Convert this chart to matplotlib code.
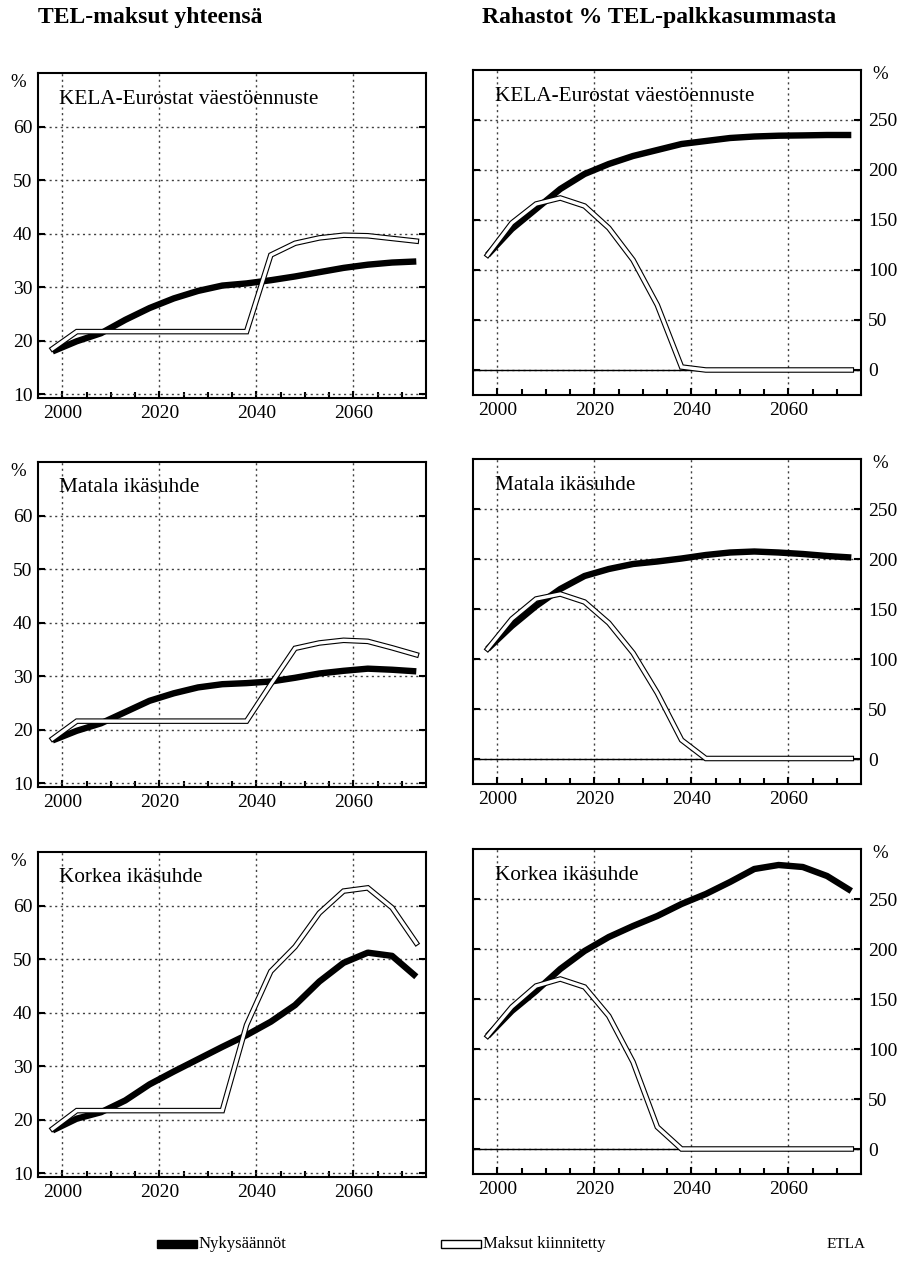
import matplotlib.pyplot as plt
from matplotlib.patches import Rectangle

plt.rcParams['font.family'] = ['Liberation Serif', 'DejaVu Serif']

# Vuodet (5 vuoden välein)
vuodet = [1998, 2003, 2008, 2013, 2018, 2023, 2028, 2033,
          2038, 2043, 2048, 2053, 2058, 2063, 2068, 2073]

# TEL-maksut yhteensä, %
maksu_kela_nyky = [18.0, 19.9, 21.4, 23.9, 26.1, 27.9, 29.3, 30.3,
                   30.7, 31.3, 32.0, 32.8, 33.6, 34.2, 34.6, 34.8]
maksu_kela_kiinn = [18.5, 21.7, 21.7, 21.7, 21.7, 21.7, 21.7, 21.7,
                    21.7, 36.0, 38.2, 39.2, 39.7, 39.6, 39.1, 38.6]
maksu_mat_nyky = [18.0, 19.8, 21.2, 23.3, 25.4, 26.8, 27.9, 28.5,
                  28.7, 29.0, 29.7, 30.5, 31.0, 31.4, 31.2, 30.9]
maksu_mat_kiinn = [18.3, 21.6, 21.6, 21.6, 21.6, 21.6, 21.6, 21.6,
                   21.6, 28.5, 35.2, 36.2, 36.7, 36.5, 35.3, 34.0]
maksu_kork_nyky = [18.0, 20.2, 21.4, 23.6, 26.6, 29.0, 31.3, 33.6,
                   35.8, 38.3, 41.4, 45.8, 49.3, 51.2, 50.6, 46.7]
maksu_kork_kiinn = [18.3, 21.7, 21.7, 21.7, 21.7, 21.7, 21.7, 21.7,
                    37.7, 47.7, 52.3, 58.6, 62.7, 63.3, 59.6, 53.0]

# Rahastot % TEL-palkkasummasta
rahasto_kela_nyky = [115, 141, 161, 181, 196, 206, 214, 220,
                     226, 229, 232, 233.5, 234.3, 234.6, 235, 235]
rahasto_kela_kiinn = [115, 147, 166, 172, 164, 142, 110, 65,
                      3, 0, 0, 0, 0, 0, 0, 0]
rahasto_mat_nyky = [110, 133, 153, 170, 183, 190, 195, 197.5,
                    200.5, 204, 206.5, 207.5, 206.5, 205, 203, 201.5]
rahasto_mat_kiinn = [110, 140, 160, 165, 157, 136, 106, 66,
                     19, 0.5, 0.5, 0.5, 0.5, 0.5, 0.5, 0.5]
rahasto_kork_nyky = [113, 138, 158, 180, 198, 212, 223, 233,
                     245, 255, 267, 280, 284, 282, 273, 258]
rahasto_kork_kiinn = [113, 142, 163, 170, 162, 133, 87, 22,
                      0, 0, 0, 0, 0, 0, 0, 0]

paneelit = ["KELA-Eurostat väestöennuste", "Matala ikäsuhde", "Korkea ikäsuhde"]
vasen_data = [(maksu_kela_nyky, maksu_kela_kiinn),
              (maksu_mat_nyky, maksu_mat_kiinn),
              (maksu_kork_nyky, maksu_kork_kiinn)]
oikea_data = [(rahasto_kela_nyky, rahasto_kela_kiinn),
              (rahasto_mat_nyky, rahasto_mat_kiinn),
              (rahasto_kork_nyky, rahasto_kork_kiinn)]

W, H = 904, 1264
fig = plt.figure(figsize=(W / 100, H / 100), dpi=100)


def px_axes(left, top, right, bottom):
    return fig.add_axes([left / W, 1 - bottom / H, (right - left) / W, (bottom - top) / H])


def piirra(ax, nyky, kiinn):
    ax.plot(vuodet, nyky, color="black", lw=4.6, solid_capstyle="butt", zorder=3)
    ax.plot(vuodet, kiinn, color="black", lw=4.0, solid_joinstyle="miter", zorder=4)
    ax.plot(vuodet, kiinn, color="white", lw=2.4, solid_joinstyle="miter", zorder=5)


def muotoile(ax):
    ax.set_xlim(1995, 2075)
    ax.set_xticks([2000, 2020, 2040, 2060])
    ax.set_xticks([2005, 2010, 2015, 2025, 2030, 2035, 2045, 2050, 2055, 2065, 2070], minor=True)
    ax.grid(True, which="major", linestyle=(0, (1.5, 2.5)), color="0.25", lw=1.0)
    ax.tick_params(axis="both", which="major", direction="in", length=5, width=1.5,
                   labelsize=14, top=False)
    ax.tick_params(axis="x", which="major", pad=5)
    ax.tick_params(axis="x", which="minor", direction="in", length=4, width=1.5, top=False)
    for s in ax.spines.values():
        s.set_linewidth(1.5)


tops_l = [73, 462, 852]
tops_r = [70, 459, 849]

for i in range(3):
    # vasen sarake
    ax = px_axes(38, tops_l[i], 426, tops_l[i] + 325)
    piirra(ax, *vasen_data[i])
    muotoile(ax)
    ax.set_ylim(9.3, 70)
    ax.set_yticks([10, 20, 30, 40, 50, 60])
    ax.tick_params(axis="y", left=True, right=True, labelleft=True, labelright=False, pad=4)
    ax.text(0.054, 0.92, paneelit[i], transform=ax.transAxes, fontsize=15.3,
            va="center", ha="left", zorder=6)
    ax.text(-0.03, 0.97, "%", transform=ax.transAxes, fontsize=13.5, ha="right",
            va="center")

    # oikea sarake
    ax = px_axes(473, tops_r[i], 861, tops_r[i] + 325)
    ax.axhline(0, color="black", lw=1.0, zorder=2)
    piirra(ax, *oikea_data[i])
    muotoile(ax)
    ax.set_ylim(-25, 300)
    ax.set_yticks([0, 50, 100, 150, 200, 250])
    ax.tick_params(axis="y", left=True, right=True, labelleft=False, labelright=True, pad=5)
    ax.text(0.057, 0.917, paneelit[i], transform=ax.transAxes, fontsize=15.3,
            va="center", ha="left", zorder=6)
    ax.text(1.03, 0.985, "%", transform=ax.transAxes, fontsize=13.5, ha="left",
            va="center")

# Otsikot
fig.text(38 / W, 1 - 18 / H, "TEL-maksut yhteensä", fontsize=17, fontweight="bold",
         ha="left", va="center")
fig.text(482 / W, 1 - 18 / H, "Rahastot % TEL-palkkasummasta", fontsize=17,
         fontweight="bold", ha="left", va="center")

# Selite
fig.add_artist(Rectangle((157 / W, 1 - 1248 / H), 40 / W, 8 / H, transform=fig.transFigure,
                         facecolor="black", edgecolor="black"))
fig.text(199 / W, 1 - 1244 / H, "Nykysäännöt", fontsize=12, ha="left", va="center")
fig.add_artist(Rectangle((441 / W, 1 - 1248 / H), 40 / W, 8 / H, transform=fig.transFigure,
                         facecolor="white", edgecolor="black", lw=1.0))
fig.text(483 / W, 1 - 1244 / H, "Maksut kiinnitetty", fontsize=12, ha="left", va="center")
fig.text(866 / W, 1 - 1245 / H, "ETLA", fontsize=11, ha="right", va="center")

fig.savefig("out.png", dpi=100)
